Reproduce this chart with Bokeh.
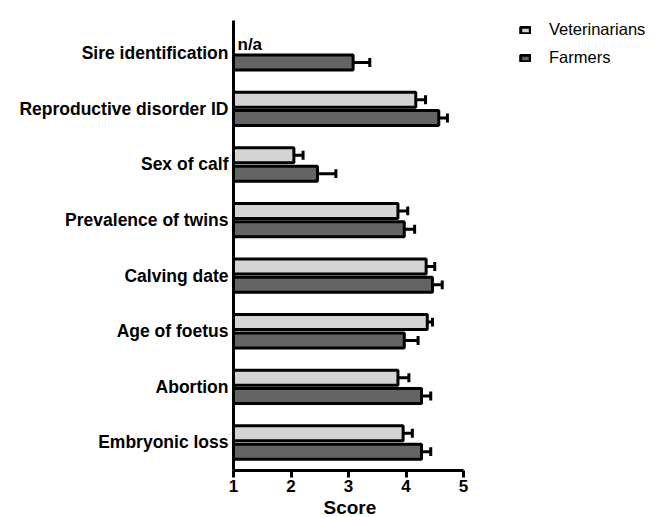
from bokeh.plotting import figure
from bokeh.models import Range1d, FixedTicker, Legend, LegendItem, ColumnDataSource, Title
from bokeh.core.properties import value
from bokeh.embed import file_html
from bokeh.resources import INLINE

categories = ["Sire identification", "Reproductive disorder ID", "Sex of calf",
              "Prevalence of twins", "Calving date", "Age of foetus", "Abortion",
              "Embryonic loss"]
vet_mean = [None, 4.17, 2.05, 3.86, 4.35, 4.37, 3.86, 3.95]
vet_err = [None, 0.17, 0.16, 0.17, 0.15, 0.09, 0.19, 0.16]
farm_mean = [3.08, 4.57, 2.46, 3.97, 4.46, 3.97, 4.27, 4.27]
farm_err = [0.29, 0.15, 0.32, 0.18, 0.17, 0.24, 0.16, 0.16]
x_ticks = [1, 2, 3, 4, 5]

n = len(categories)
pos = [n - 1 - i for i in range(n)]
off = 0.165
bar_h = 0.27
cap = 0.08

FONT = "Liberation Sans"

p = figure(width=655, height=517, output_backend="svg", toolbar_location=None,
           x_range=Range1d(1, 8.339), y_range=Range1d(-0.504, 7.59),
           min_border_left=233, min_border_right=0, min_border_top=20,
           min_border_bottom=47)
p.outline_line_color = None
p.grid.visible = False
p.background_fill_color = "white"
p.border_fill_color = "white"

vet_idx = [i for i in range(n) if vet_mean[i] is not None]
vsrc = ColumnDataSource(dict(
    y=[pos[i] + off for i in vet_idx],
    right=[vet_mean[i] for i in vet_idx],
    upper=[vet_mean[i] + vet_err[i] for i in vet_idx],
))
fsrc = ColumnDataSource(dict(
    y=[pos[i] - off for i in range(n)],
    right=farm_mean,
    upper=[farm_mean[i] + farm_err[i] for i in range(n)],
))

for src in (vsrc, fsrc):
    d = src.data
    p.segment(x0=d["right"], y0=d["y"], x1=d["upper"], y1=d["y"],
              line_color="black", line_width=3)
    p.segment(x0=d["upper"], y0=[y - cap for y in d["y"]], x1=d["upper"],
              y1=[y + cap for y in d["y"]], line_color="black", line_width=3)

rv = p.hbar(y="y", left=1, right="right", height=bar_h, source=vsrc,
            fill_color="#d4d4d4", line_color="black", line_width=3)
rf = p.hbar(y="y", left=1, right="right", height=bar_h, source=fsrc,
            fill_color="#646464", line_color="black", line_width=3)

na_idx = [i for i in range(n) if vet_mean[i] is None]
p.text(x=[1] * len(na_idx), y=[pos[i] + off for i in na_idx], text=["n/a"] * len(na_idx),
       x_offset=4, text_font=value(FONT), text_font_style="bold",
       text_font_size="17px", text_baseline="middle", text_align="left",
       text_color="black")

xa = p.xaxis[0]
xa.ticker = FixedTicker(ticks=x_ticks)
xa.bounds = (1, 5)
xa.axis_line_width = 3
xa.major_tick_line_width = 3
xa.major_tick_out = 7
xa.major_tick_in = 0
xa.minor_tick_line_color = None
xa.major_label_standoff = 2
xa.major_label_text_font = FONT
xa.major_label_text_font_style = "bold"
xa.major_label_text_font_size = "17px"
xa.major_label_text_color = "black"

p.add_layout(Title(text="Score", align="left", offset=90, standoff=0,
                   text_font=FONT, text_font_style="bold", text_font_size="19px",
                   text_color="black"), "below")

ya = p.yaxis[0]
ya.ticker = FixedTicker(ticks=pos)
ya.major_label_overrides = {pos[i]: categories[i] for i in range(n)}
ya.axis_line_width = 3
ya.major_tick_out = 0
ya.major_tick_in = 0
ya.minor_tick_line_color = None
ya.major_label_standoff = 5
ya.major_label_text_font = FONT
ya.major_label_text_font_style = "bold"
ya.major_label_text_font_size = "17.5px"
ya.major_label_text_color = "black"

legend = Legend(items=[LegendItem(label="Veterinarians", renderers=[rv]),
                       LegendItem(label="Farmers", renderers=[rf])],
                location=(286, 403), glyph_width=12, glyph_height=8,
                label_standoff=18, label_height=16, spacing=9, padding=0, margin=0,
                border_line_color=None, background_fill_alpha=0,
                label_text_font=FONT, label_text_font_size="16.5px",
                label_text_color="black")
p.add_layout(legend)

open("out.html", "w").write(file_html(p, INLINE))
